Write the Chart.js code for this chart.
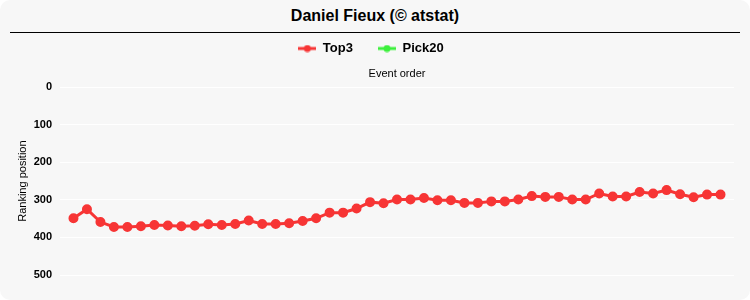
<!DOCTYPE html>
<html>
<head>
<meta charset="utf-8">
<script src="https://cdn.jsdelivr.net/npm/chart.js@4"></script>
<style>
  html, body { margin: 0; padding: 0; background: #fff; }
  #box { position: relative; width: 750px; height: 300px; background: #f7f7f7; border-radius: 10px; overflow: hidden; }
  #ttl { position: absolute; left: 10px; right: 10px; top: 0; height: 32px; border-bottom: 1px solid #000;
         font: bold 16px 'Liberation Sans', Arial, sans-serif; color: #000; text-align: center; line-height: 32px; }
  #wrap { position: absolute; left: 0; top: 33px; width: 750px; height: 267px; }
</style>
</head>
<body>
<div id="box">
  <div id="ttl">Daniel Fieux (© atstat)</div>
  <div id="wrap"><canvas id="c"></canvas></div>
</div>
<script>
// event order 1..49
const events = [1,2,3,4,5,6,7,8,9,10,11,12,13,14,15,16,17,18,19,20,21,22,23,24,25,
                26,27,28,29,30,31,32,33,34,35,36,37,38,39,40,41,42,43,44,45,46,47,48,49];
const top3 = [349,325,359,372,372,370,367,368,370,369,365,367,364,355,364,364,362,356,349,334,334,323,306,309,299,
              299,295,301,301,308,308,304,304,299,290,292,292,299,299,283,291,291,279,283,274,285,293,286,286];
const pick20 = [];
const yTicks = [0,100,200,300,400,500];

const C = { red: '#f73535', green: '#3cf03c', grid: '#ffffff', txt: '#000' };
const font = "'Liberation Sans', Arial, sans-serif";

// legend glyph: short line with a dot in the middle
function glyph(color) {
  const cv = document.createElement('canvas');
  cv.width = 18; cv.height = 8;
  const g = cv.getContext('2d');
  g.strokeStyle = color; g.fillStyle = color; g.lineWidth = 3;
  g.beginPath(); g.moveTo(0, 4); g.lineTo(18, 4); g.stroke();
  g.beginPath(); g.arc(9, 4, 3.5, 0, Math.PI * 2); g.fill();
  return cv;
}

const pts = (arr) => arr.map((v, i) => ({ x: events[i], y: v }));

new Chart(document.getElementById('c'), {
  type: 'line',
  data: {
    datasets: [
      { label: 'Top3', data: pts(top3), borderColor: C.red, backgroundColor: C.red, borderWidth: 3,
        pointRadius: 3.5, pointStyle: 'circle', pointBackgroundColor: C.red, tension: 0 },
      { label: 'Pick20', data: pts(pick20), borderColor: C.green, backgroundColor: C.green, borderWidth: 3,
        pointRadius: 3.5, pointStyle: 'circle' },
    ],
  },
  options: {
    responsive: true, maintainAspectRatio: false, animation: false,
    layout: { padding: { left: 8, right: 16, bottom: 25, top: 2 } },
    plugins: {
      legend: {
        display: true,
        labels: { usePointStyle: true, pointStyleWidth: 18, color: C.txt, font: { family: font, size: 13, weight: 'bold' }, padding: 7,
          generateLabels: (ch) => ch.data.datasets.map((d, i) => ({
            text: i === 0 ? d.label + '     ' : d.label, pointStyle: glyph(d.borderColor), fillStyle: d.borderColor,
            strokeStyle: d.borderColor, lineWidth: 0, fontColor: C.txt, datasetIndex: i, hidden: false })) },
      },
      tooltip: { enabled: false },
    },
    scales: {
      x: {
        type: 'linear', position: 'top', min: 0, max: 50,
        grid: { display: false, drawTicks: false }, border: { display: false },
        ticks: { display: false },
        title: { display: true, text: 'Event order', color: C.txt, font: { family: font, size: 11 }, padding: { top: 2, bottom: 7 } },
      },
      y: {
        reverse: true, min: 0, max: 500,
        afterBuildTicks: (ax) => { ax.ticks = yTicks.map(v => ({ value: v })); },
        afterFit: (ax) => { ax.width = 52; },
        grid: { color: C.grid, lineWidth: 1, drawTicks: false }, border: { display: false },
        ticks: { color: C.txt, font: { family: font, size: 11, weight: 'bold' }, padding: 8 },
        title: { display: true, text: 'Ranking position', color: C.txt, font: { family: font, size: 11 }, padding: { top: 8.5, bottom: 0 } },
      },
    },
  },
});
</script>
</body>
</html>
